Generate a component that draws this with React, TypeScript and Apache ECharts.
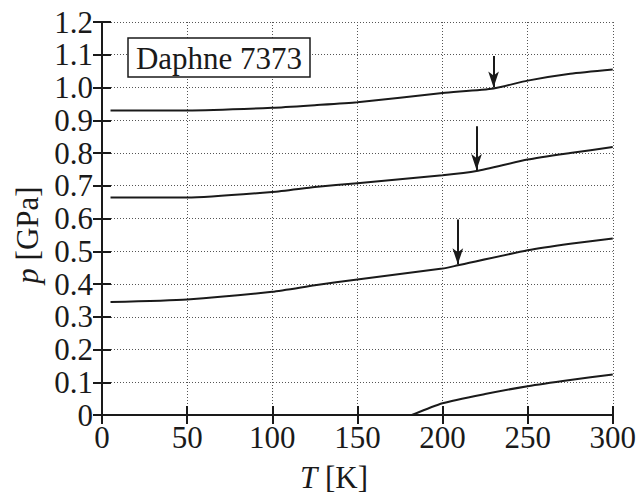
import React, { useEffect, useRef } from "react";
import * as echarts from "echarts";

const T1 = [5, 50, 100, 125, 150, 200, 230, 250, 275, 300];
const P1 = [0.93, 0.93, 0.938, 0.946, 0.955, 0.983, 0.997, 1.021, 1.042, 1.055];
const T2 = [5, 50, 100, 125, 150, 200, 220, 250, 275, 300];
const P2 = [0.664, 0.664, 0.681, 0.696, 0.708, 0.732, 0.745, 0.78, 0.8, 0.818];
const T3 = [5, 50, 100, 125, 150, 200, 209, 250, 275, 300];
const P3 = [0.345, 0.353, 0.376, 0.396, 0.414, 0.447, 0.457, 0.503, 0.523, 0.539];
const T4 = [182, 200, 225, 250, 275, 300];
const P4 = [0, 0.036, 0.064, 0.088, 0.107, 0.124];

// arrows: [T, p_start, p_tip]
const ARROWS = [
  [230, 1.096, 1.0],
  [220, 0.882, 0.748],
  [209, 0.597, 0.46],
];

const LEGEND_TEXT = "Daphne 7373";
const FONT = "Liberation Serif, Times New Roman, serif";

const zip = (a: number[], b: number[]) => a.map((v, i) => [v, b[i]]);

export default function App() {
  const ref = useRef<HTMLDivElement>(null);
  useEffect(() => {
    const chart = echarts.init(ref.current!, undefined, { renderer: "svg" });
    const lineStyle = { color: "#1a1a1a", width: 2 };
    const axisCommon = {
      min: 0,
      axisLine: { show: true, lineStyle: { color: "#1a1a1a", width: 2 } },
      axisTick: { show: true, inside: true, length: 9, lineStyle: { color: "#1a1a1a", width: 2 } },
    };
    const mk = (i: number) => ({
      silent: true,
      symbol: ["none", "arrow"],
      symbolSize: [8, 16],
      label: { show: false },
      lineStyle: { color: "#1a1a1a", width: 2, type: "solid" },
      data: [
        [
          { coord: [ARROWS[i][0], ARROWS[i][1]] },
          { coord: [ARROWS[i][0], ARROWS[i][2]] },
        ],
      ],
    });
    chart.setOption({
      animation: false,
      backgroundColor: "#ffffff",
      grid: { left: 102, right: 26, top: 22, bottom: 80 },
      xAxis: [
        {
          type: "value",
          ...axisCommon,
          max: 300,
          interval: 50,
          axisLabel: { color: "#1a1a1a", fontFamily: FONT, fontSize: 31, margin: 7 },
          splitLine: { show: true, lineStyle: { color: "#555", type: [1, 2], width: 1 } },
        },
        {
          type: "value",
          position: "top",
          ...axisCommon,
          max: 300,
          interval: 50,
          axisLabel: { show: false },
          splitLine: { show: false },
        },
      ],
      yAxis: [
        {
          type: "value",
          ...axisCommon,
          max: 1.2,
          interval: 0.1,
          axisLabel: {
            color: "#1a1a1a",
            fontFamily: FONT,
            fontSize: 31,
            margin: 9,
            formatter: (v: number) => (v === 0 ? "0" : v.toFixed(1)),
          },
          splitLine: { show: true, lineStyle: { color: "#555", type: [1, 2], width: 1 } },
        },
        {
          type: "value",
          position: "right",
          ...axisCommon,
          max: 1.2,
          interval: 0.1,
          axisLabel: { show: false },
          splitLine: { show: false },
        },
      ],
      series: [
        { type: "line", data: zip(T1, P1), showSymbol: false, smooth: 0.2, lineStyle, markLine: mk(0) },
        { type: "line", data: zip(T2, P2), showSymbol: false, smooth: 0.2, lineStyle, markLine: mk(1) },
        { type: "line", data: zip(T3, P3), showSymbol: false, smooth: 0.2, lineStyle, markLine: mk(2) },
        { type: "line", data: zip(T4, P4), showSymbol: false, smooth: 0.2, lineStyle },
      ],
      graphic: [
        {
          type: "rect",
          shape: { x: 128, y: 38, width: 182, height: 39 },
          style: { fill: "#fff", stroke: "#1a1a1a", lineWidth: 1.5 },
          z: 100,
        },
        {
          type: "text",
          x: 219,
          y: 58,
          z: 101,
          style: {
            text: LEGEND_TEXT,
            font: `31px ${FONT}`,
            fill: "#1a1a1a",
            align: "center",
            verticalAlign: "middle",
          },
        },
        {
          type: "text",
          x: 334,
          y: 477,
          style: {
            text: "{i|T} [K]",
            font: `31px ${FONT}`,
            fill: "#1a1a1a",
            align: "center",
            verticalAlign: "middle",
            rich: { i: { fontStyle: "italic", font: `italic 31px ${FONT}`, fill: "#1a1a1a" } },
          },
        },
        {
          type: "text",
          x: 27,
          y: 235,
          rotation: Math.PI / 2,
          style: {
            text: "{i|p} [GPa]",
            font: `31px ${FONT}`,
            fill: "#1a1a1a",
            align: "center",
            verticalAlign: "middle",
            rich: { i: { fontStyle: "italic", font: `italic 31px ${FONT}`, fill: "#1a1a1a" } },
          },
        },
      ],
    });
    return () => chart.dispose();
  }, []);
  return (
    <div
      ref={ref}
      style={{ position: "fixed", left: 0, top: 0, width: 639, height: 495 }}
    />
  );
}
